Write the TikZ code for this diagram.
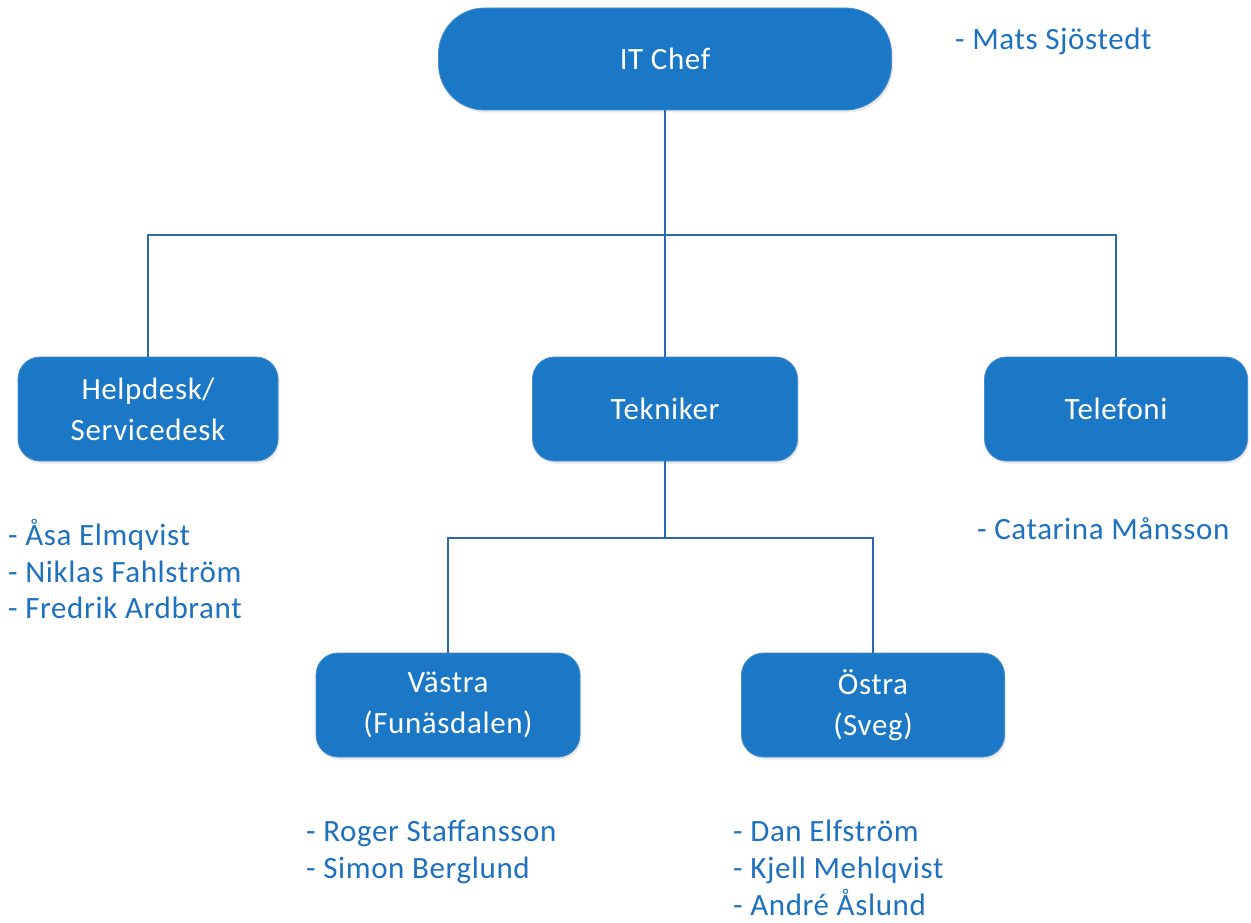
\documentclass[tikz,border=0pt]{standalone}
\usepackage{fontspec}
\setmainfont[LetterSpace=2]{Carlito}
\usetikzlibrary{shadows}
\definecolor{boxblue}{RGB}{27,120,198}
\definecolor{boxedge}{RGB}{70,140,205}
\definecolor{txtblue}{RGB}{30,112,192}
\definecolor{lineblue}{RGB}{40,105,175}
\begin{document}
\begin{tikzpicture}[x=1pt,y=-1pt,
  box/.style={fill=boxblue, draw=boxedge, line width=0.8pt, rounded corners=22pt,
    minimum width=263pt, minimum height=104pt, text=white, align=center,
    font=\fontsize{31}{41}\selectfont, inner sep=0pt,
    drop shadow={opacity=0.18, shadow xshift=1.5pt, shadow yshift=-2.5pt}},
  person/.style={anchor=base west, text=txtblue, font=\fontsize{31}{37}\selectfont, inner sep=0pt},
  conn/.style={draw=lineblue, line width=1.6pt}]
\useasboundingbox (0,0) rectangle (1251,923);

% boxes
\node[box, minimum width=453pt, minimum height=102pt, rounded corners=46pt] (chef) at (665,59) {IT Chef};
\node[box, minimum width=260pt] (help) at (148,409) {Helpdesk/\\Servicedesk};
\node[box, minimum width=265pt] (tek) at (665,409) {Tekniker};
\node[box] (tele) at (1116,409) {Telefoni};
\node[box, minimum width=264pt] (vas) at (448,705) {Västra\\(Funäsdalen)};
\node[box] (ost) at (873,705) {Östra\\(Sveg)};

% connectors
\coordinate (bus) at (0,235);
\coordinate (bus2) at (0,538);
\draw[conn] (chef.south) -- (tek.north);
\draw[conn] (help.north) |- (bus -| tele.north) -- (tele.north);
\draw[conn] (tek.south) -- (tek.south |- bus2);
\draw[conn] (vas.north) |- (bus2 -| ost.north) -- (ost.north);

% people
\node[person] (mats) at (955,50) {- Mats Sjöstedt};
\node[person] (p1) at (8,545) {- Åsa Elmqvist};
\node[person] (p2) at (8,582) {- Niklas Fahlström};
\node[person] (p3) at (8,618) {- Fredrik Ardbrant};
\node[person] (p4) at (977,539) {- Catarina Månsson};
\node[person] (p5) at (306,841) {- Roger Staffansson};
\node[person] (p6) at (306,878) {- Simon Berglund};
\node[person] (p7) at (733,841) {- Dan Elfström};
\node[person] (p8) at (733,878) {- Kjell Mehlqvist};
\node[person] (p9) at (733,915) {- André Åslund};
\end{tikzpicture}
\end{document}
